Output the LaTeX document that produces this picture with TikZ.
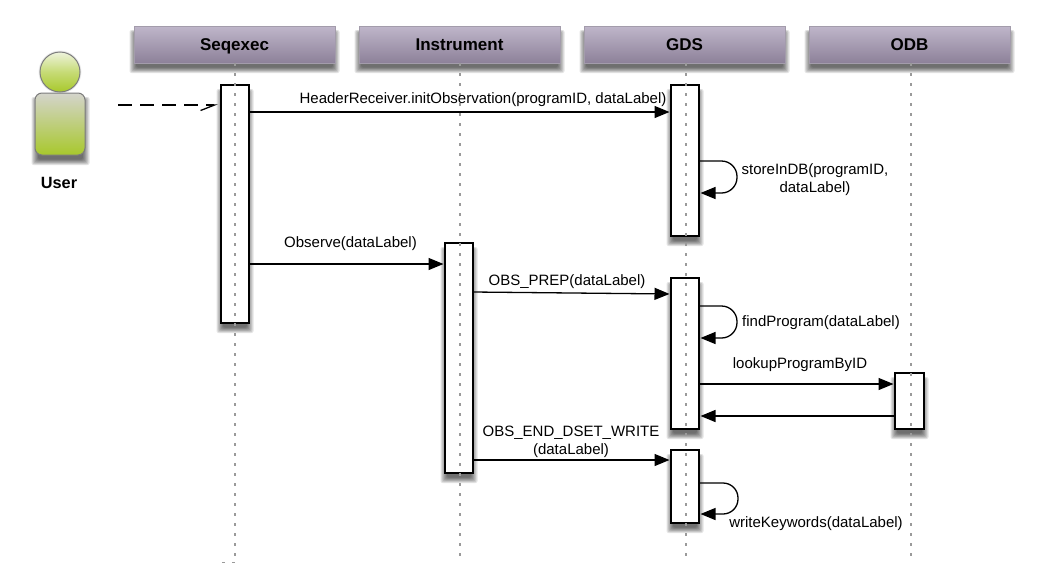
\documentclass[tikz,border=0pt]{standalone}
\usepackage{fontspec}
\setmainfont{Liberation Sans}
\usetikzlibrary{arrows.meta,calc,shadings}
\definecolor{headtop}{HTML}{BFB6CA}
\definecolor{headbot}{HTML}{8D8199}
\definecolor{headedge}{HTML}{A39CAB}
\definecolor{lifegray}{HTML}{9A9A9A}
\definecolor{usergreen}{HTML}{A8C82C}
\definecolor{userbodytop}{HTML}{D4D4CC}
\definecolor{userheadtop}{HTML}{EEF3DC}
\definecolor{useredge}{HTML}{7C7C7C}
\newcommand{\softshadow}[5][]{%
  \foreach \k in {0,1,...,6}{%
    \fill[black,opacity=0.11,rounded corners=2pt]
      ({#2-4.5+\k*1.1},{#3+4+\k*0.6}) rectangle ({#4+4.5-\k*1.1},{#5+10-\k*0.9});
  }%
}
\tikzset{
  x=1pt,y=-1pt,
  lbl/.style={font=\fontsize{15}{17.5}\selectfont,align=center,inner sep=0pt,text=black},
  slbl/.style={lbl,text height=11pt,text depth=3.2pt},
  headbox/.style={rectangle,draw=headedge,line width=1pt,top color=headtop,bottom color=headbot,
    minimum width=201pt,minimum height=37pt,inner sep=0pt,outer sep=0pt,text height=12pt,text depth=0pt,
    font=\fontsize{17}{20}\selectfont\bfseries},
  actbox/.style={rectangle,draw=black,fill=white,line width=1.5pt,minimum width=28pt,inner sep=0pt,outer sep=0pt},
  msg/.style={line width=1.3pt,-{Triangle[length=15pt,width=12pt]},shorten >=1.5pt},
  dashmsg/.style={line width=1.3pt,dash pattern=on 14pt off 8pt,-{Straight Barb[right,length=14pt,width=11pt,line width=1.3pt]}},
  lifeline/.style={lifegray,line width=1.5pt,dash pattern=on 2.6pt off 7.4pt},
}
\begin{document}
\begin{tikzpicture}
\useasboundingbox (0,0) rectangle (1043,581);
\fill[white] (0,0) rectangle (1043,581);
% shadows
\softshadow{134}{26}{335}{63}
\softshadow{359}{26}{560}{63}
\softshadow{584}{26}{785}{63}
\softshadow{809}{26}{1010}{63}
\softshadow{221}{85}{249}{323}
\softshadow{445}{243}{473}{473}
\softshadow{671}{85}{699}{236}
\softshadow{671}{278}{699}{429}
\softshadow{671}{450}{699}{523}
\softshadow{895}{373}{924}{429}
\softshadow{36}{93}{85}{155}
% heads
\node[headbox] (seq) at (234.5,44.5) {Seqexec};
\node[headbox] (ins) at (459.5,44.5) {Instrument};
\node[headbox] (gds) at (684.5,44.5) {GDS};
\node[headbox] (odb) at (909.5,44.5) {ODB};
% activations
\node[actbox,minimum height=238pt] (a1) at (235,204) {};
\node[actbox,minimum height=230pt] (b1) at (459,358) {};
\node[actbox,minimum height=151pt] (g1) at (685,160.5) {};
\node[actbox,minimum height=151pt] (g2) at (685,353.5) {};
\node[actbox,minimum height=73pt] (g3) at (685,486.5) {};
\node[actbox,minimum width=29pt,minimum height=56pt] (o1) at (909.5,401) {};
% lifelines
\coordinate (seqend) at (235,557);
\coordinate (insend) at (460,557);
\coordinate (gdsend) at (686,557);
\coordinate (odbend) at (911,557);
\draw[lifeline] (seqend |- seq.south) -- (seqend);
\draw[lifeline] (insend |- ins.south) -- (insend);
\draw[lifeline] (gdsend |- gds.south) -- (gdsend);
\draw[lifeline] (odbend |- odb.south) -- (odbend);
\fill[lifegray] (222,561.5) rectangle (225,563);
\fill[lifegray] (232,561.5) rectangle (235,563);
% actor
\fill[black,opacity=0.07] (60,72) circle (21.5);
\node[circle,draw=useredge,line width=1pt,minimum size=40pt,inner sep=0pt,outer sep=0pt,
  top color=userheadtop,bottom color=usergreen,middle color=usergreen!65!white] (uhead) at (60,72) {};
\node[rectangle,rounded corners=7pt,draw=useredge,line width=1pt,minimum width=50pt,minimum height=62pt,
  inner sep=0pt,outer sep=0pt,top color=userbodytop,bottom color=usergreen] (ubody) at (60,124) {};
\node[font=\fontsize{16.3}{19}\selectfont\bfseries,inner sep=0pt] (ulabel) at (59,182.5) {User};
% messages
\coordinate (ustart) at (118,105);
\draw[dashmsg] (ustart) -- ([yshift=-20pt,xshift=-3pt]a1.north west);
\draw[msg] ([yshift=-27pt]a1.north east) -- ([yshift=-27pt]g1.north west);
\draw[msg] ([yshift=-179pt]a1.north east) -- ([yshift=-21pt]b1.north west);
\draw[msg] ([yshift=-49pt]b1.north east) -- ([yshift=-16pt]g2.north west);
\draw[msg] ([yshift=-106pt]g2.north east) -- ([yshift=-11pt]o1.north west);
\draw[msg] ([yshift=-43pt]o1.north west) -- ([yshift=-138pt]g2.north east);
\draw[msg] ([yshift=-217pt]b1.north east) -- ([yshift=-10pt]g3.north west);
% self calls
\draw[msg,rounded corners=15.5pt] ([yshift=-76pt]g1.north east) -- ++(38,0) -- ++(0,32) -- ([yshift=-108pt]g1.north east);
\draw[msg,rounded corners=15.5pt] ([yshift=-28pt]g2.north east) -- ++(38,0) -- ++(0,32) -- ([yshift=-60pt]g2.north east);
\draw[msg,rounded corners=15pt] ([yshift=-33pt]g3.north east) -- ++(39,0) -- ++(0,31) -- ([yshift=-64pt]g3.north east);
% labels
\node[slbl] (t1) at (483,99.5) {HeaderReceiver.initObservation(programID, dataLabel)};
\node[lbl] (t2) at (815,179.5) {storeInDB(programID,\\dataLabel)};
\node[slbl] (t3) at (350.5,243.5) {Observe(dataLabel)};
\node[slbl] (t4) at (567,281.5) {OBS\_PREP(dataLabel)};
\node[slbl] (t5) at (821,322.5) {findProgram(dataLabel)};
\node[slbl] (t6) at (800,364.5) {lookupProgramByID};
\node[lbl] (t7) at (571,442) {OBS\_END\_DSET\_WRITE\\(dataLabel)};
\node[slbl] (t8) at (816,523.5) {writeKeywords(dataLabel)};
\end{tikzpicture}
\end{document}
